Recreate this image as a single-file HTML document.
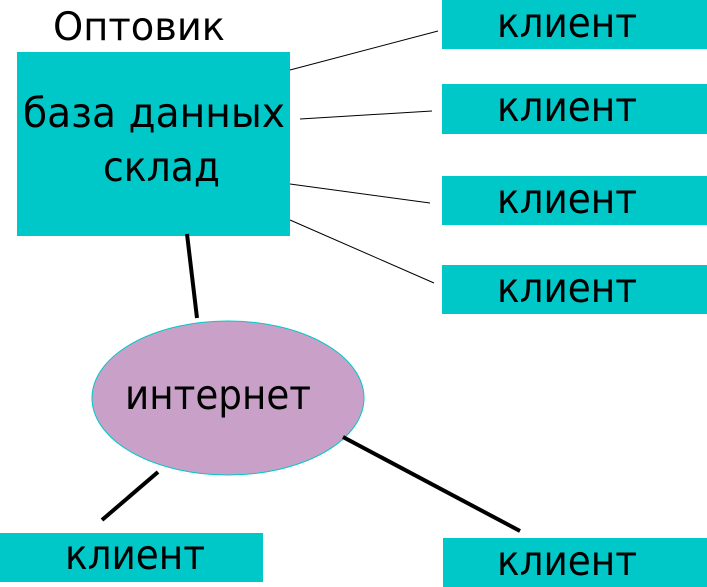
<!DOCTYPE html>
<html><head><meta charset="utf-8"><style>body{margin:0;background:#fff}svg{display:block}</style></head>
<body>
<svg width="707" height="587" viewBox="0 0 707 587" xmlns="http://www.w3.org/2000/svg" font-family="DejaVu Sans, Liberation Sans, sans-serif" font-size="41" fill="#000">
<rect x="17" y="52" width="273" height="184" fill="#00C8C8"/>
<rect x="442" y="0" width="265" height="49" fill="#00C8C8"/>
<rect x="442" y="84" width="265" height="50" fill="#00C8C8"/>
<rect x="442" y="176" width="265" height="49" fill="#00C8C8"/>
<rect x="442" y="265" width="265" height="49" fill="#00C8C8"/>
<rect x="443" y="538" width="264" height="49" fill="#00C8C8"/>
<rect x="0" y="533" width="263" height="49" fill="#00C8C8"/>
<ellipse cx="228" cy="398" rx="136" ry="77" fill="#C8A0C8" stroke="#00C8C8" stroke-width="1"/>
<g stroke="#000" stroke-width="1">
<line x1="290" y1="70" x2="438" y2="31"/>
<line x1="300" y1="119" x2="432" y2="111"/>
<line x1="290" y1="184" x2="430" y2="203"/>
<line x1="290" y1="220" x2="434" y2="283"/>
</g>
<g stroke="#000" stroke-width="4">
<line x1="187" y1="234" x2="197" y2="318"/>
<line x1="158" y1="472" x2="102" y2="520"/>
<line x1="343" y1="437" x2="520" y2="531"/>
</g>
<text x="53" y="40" font-size="39" textLength="172" lengthAdjust="spacingAndGlyphs">Оптовик</text>
<text x="23" y="127" textLength="262" lengthAdjust="spacingAndGlyphs">база данных</text>
<text x="103" y="181" textLength="117" lengthAdjust="spacingAndGlyphs">склад</text>
<text x="125" y="409" textLength="186" lengthAdjust="spacingAndGlyphs">интернет</text>
<text x="497" y="37" textLength="140" lengthAdjust="spacingAndGlyphs">клиент</text>
<text x="497" y="121" textLength="140" lengthAdjust="spacingAndGlyphs">клиент</text>
<text x="497" y="213" textLength="140" lengthAdjust="spacingAndGlyphs">клиент</text>
<text x="497" y="302" textLength="140" lengthAdjust="spacingAndGlyphs">клиент</text>
<text x="497" y="575" textLength="140" lengthAdjust="spacingAndGlyphs">клиент</text>
<text x="65" y="569" textLength="140" lengthAdjust="spacingAndGlyphs">клиент</text>
</svg>
</body></html>
